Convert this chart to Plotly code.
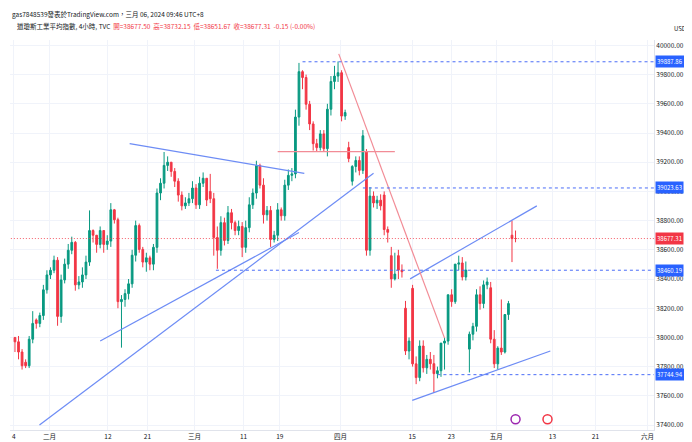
import plotly.graph_objects as go

closes = [37970,37900,37806,37806,37988,38096,38096,38150,38326,38428,
          38460,38529,38144,38394,38502,38597,38651,38360,38380,38428,
          38516,38732,38700,38637,38732,38637,38660,38874,38806,38245,
          38260,38300,38367,38563,38766,38603,38516,38545,38502,38617,
          38989,39056,39178,39200,39137,39070,38975,38901,38921,38950,
          39023,38908,39056,39090,38941,38950,38684,38597,38786,38664,
          38854,38786,38732,38760,38617,38752,38908,38989,39178,39043,
          38840,38870,38671,38700,38874,38833,39043,39110,39120,39509,
          39820,39780,39597,39462,39327,39300,39394,39293,39563,39753,
          39790,39813,39516,39540,39225,39171,39212,39144,39381,38597,
          38968,38921,38940,38901,38739,38720,38401,38434,38461,38450,
          37907,37975,37819,37725,37941,37792,37850,37820,37752,37772,
          37961,37975,38292,38245,38502,38510,38414,38461,38022,38076,
          38292,38232,38360,38380,37988,37819,37927,37900,38157,38232,
          38677,38677.31]
opens = [38000,37970,37900,37830,37806,37988,38120,38096,38150,38326,
         38428,38460,38529,38144,38394,38502,38597,38651,38360,38380,
         38428,38516,38732,38700,38637,38732,38637,38660,38874,38806,
         38245,38260,38300,38367,38563,38766,38603,38516,38545,38502,
         38617,38989,39056,39178,39200,39137,39070,38975,38901,38921,
         38950,39023,38908,39056,39090,39000,38950,38684,38597,38786,
         38664,38854,38786,38732,38760,38617,38752,38908,38989,39178,
         39043,38840,38870,38671,38700,38874,38833,39043,39110,39120,
         39509,39820,39780,39597,39462,39327,39300,39394,39293,39563,
         39753,39790,39813,39516,39300,39070,39171,39212,39144,39270,
         38597,38968,38921,38940,38975,38739,38560,38401,38560,38461,
         38200,37907,38336,37819,37725,37941,37792,37850,37820,37752,
         37772,37961,37975,38292,38245,38502,38510,38414,37920,38022,
         38076,38292,38232,38360,38340,37988,37819,37927,37900,38157,
         38700,38677.50]
highs = [38000,38010,37920,37850,38010,38180,38130,38170,38360,38460,
         38480,38560,38550,38430,38540,38640,38690,38660,38420,38480,
         38560,38870,38740,38680,38760,38680,38700,38920,38880,38820,
         38290,38330,38400,38600,38800,38780,38620,38580,38560,38640,
         39020,39090,39270,39240,39200,39160,39090,39000,38960,38990,
         39070,39050,39100,39130,39090,39120,38990,38760,38830,38820,
         38900,38880,38800,38800,38790,38800,38960,39020,39210,39190,
         39090,38900,38900,38730,38920,38890,39080,39150,39160,39560,
         39880,39830,39800,39620,39480,39360,39420,39420,39600,39790,
         39860,39890,39830,39560,39340,39180,39240,39240,39420,39290,
         39030,39000,38970,38980,39000,38760,38620,38580,38600,38500,
         38250,38000,38360,37870,37980,37980,37880,37900,37880,37800,
         37850,38000,38020,38330,38330,38560,38550,38520,38040,38100,
         38330,38350,38390,38410,38380,38050,37940,38260,37960,38250,
         38800,38732.15]
lows = [37900,37850,37780,37790,37790,37960,38060,38070,38120,38300,
        38400,38440,38080,38100,38370,38470,38570,38320,38330,38340,
        38400,38490,38650,38580,38610,38580,38600,38620,38780,38200,
        37930,38210,38260,38340,38520,38580,38480,38450,38460,38460,
        38580,38940,39020,39140,39100,39030,38930,38870,38880,38900,
        38920,38880,38880,39030,38900,38920,38560,38470,38560,38630,
        38640,38740,38700,38700,38550,38580,38720,38880,38950,39020,
        38780,38800,38620,38650,38660,38800,38800,39010,39070,39090,
        39450,39700,39560,39420,39280,39270,39280,39270,39240,39520,
        39700,39750,39480,39490,39200,39040,39130,39110,39120,38560,
        38560,38890,38880,38870,38700,38650,38340,38390,38400,38410,
        37880,37850,37800,37680,37700,37760,37750,37780,37620,37720,
        37730,37780,37950,38210,38230,38460,38390,38390,37760,37980,
        38040,38190,38200,38330,37960,37790,37780,37880,37890,38120,
        38516,38651.67]

tick_pos = [-0.3, 9.7, 26.2, 37.3, 50.6, 64.4, 74.6, 91.7, 111.9, 122.9, 135.6, 151.4, 163.5, 178.2]
tick_text = ["4", "二月", "12", "21", "三月", "11", "19", "四月", "15", "23", "五月", "13", "21", "六月"]

level_prices = [39887.86, 39023.63, 38460.19, 37744.94]
level_starts = [81, 98, 56.6, 119]
last_price = 38677.31

x = list(range(len(closes)))
fig = go.Figure(go.Candlestick(
    x=x, open=opens, high=highs, low=lows, close=closes,
    increasing=dict(line=dict(color="#089981", width=1), fillcolor="#089981"),
    decreasing=dict(line=dict(color="#F23645", width=1), fillcolor="#F23645"),
    whiskerwidth=0, showlegend=False, hoverinfo="skip"))

blue = "#6D8CF5"
red = "#F28C96"
shapes = []
def seg(x0, y0, x1, y1, color, dash="solid", width=1.2):
    shapes.append(dict(type="line", xref="x", yref="y", x0=x0, y0=y0, x1=x1, y1=y1,
                       line=dict(color=color, width=width, dash=dash)))
seg(32.3, 39327, 81.5, 39124, blue)
seg(24, 37975, 80, 38718, blue)
seg(6.9, 37400, 101, 39124, blue)
seg(111.3, 38401, 147, 38901, blue)
seg(111.9, 37569, 150.8, 37907, blue)
seg(74, 39273, 107, 39273, red)
seg(91.2, 39942, 121, 37995, red)
for p, s in zip(level_prices, level_starts):
    seg(s, p, 181, p, "#4A6CF7", dash="3px,3px", width=1)
seg(-2, last_price, 181, last_price, "#F23645", dash="1px,2px", width=0.8)
fig.update_layout(shapes=shapes)

ann = []
for p in level_prices:
    ann.append(dict(xref="paper", yref="y", x=1.0, y=p, xanchor="left", xshift=1, text=f"{p:.2f}",
                    showarrow=False, bgcolor="#2962FF", font=dict(color="white", size=6), borderpad=1))
ann.append(dict(xref="paper", yref="y", x=1.0, y=last_price, xanchor="left", xshift=1, text=f"{last_price:.2f}",
                showarrow=False, bgcolor="#F23645", font=dict(color="white", size=6), borderpad=1))
ann.append(dict(xref="paper", yref="paper", x=1.0, y=1.045, xanchor="left", xshift=18, text="USD",
                showarrow=False, font=dict(color="#131722", size=6)))
ann.append(dict(xref="paper", yref="paper", x=0.0, y=1.067, xanchor="left", yanchor="middle",
                text="gas7848539發表於TradingView.com，三月 06, 2024 09:46 UTC+8",
                showarrow=False, font=dict(color="#131722", size=6.5)))
ann.append(dict(xref="paper", yref="paper", x=0.008, y=1.035, xanchor="left", yanchor="middle",
                text="道瓊斯工業平均指數, 4小時, TVC  <span style='color:#F23645'>開=38677.50  高=38732.15  低=38651.67  收=38677.31  -0.15 (-0.00%)</span>",
                showarrow=False, font=dict(color="#131722", size=6.5)))
fig.update_layout(annotations=ann)

fig.add_trace(go.Scatter(x=[141, 150], y=[37440, 37440], mode="markers",
                         marker=dict(size=9, color=["#9C27B0", "#F23645"], symbol="circle-open",
                                     line=dict(width=1.5)), showlegend=False, hoverinfo="skip"))

fig.update_layout(
    width=692, height=442, paper_bgcolor="white", plot_bgcolor="white",
    margin=dict(l=2, r=46, t=32, b=20),
    font=dict(family="Noto Sans CJK TC, Noto Sans, sans-serif", color="#131722"),
    xaxis=dict(range=[-1.4, 180], tickvals=tick_pos, ticktext=tick_text, rangeslider=dict(visible=False),
               showgrid=True, gridcolor="#F0F3FA", tickfont=dict(size=6.5), zeroline=False,
               showline=True, linecolor="#E0E3EB", ticks=""),
    yaxis=dict(range=[37366, 40037], side="right", dtick=200, tickformat=".2f",
               showgrid=True, gridcolor="#F0F3FA", tickfont=dict(size=6.5), zeroline=False,
               showline=True, linecolor="#E0E3EB"),
)
fig.write_html("out.html")
